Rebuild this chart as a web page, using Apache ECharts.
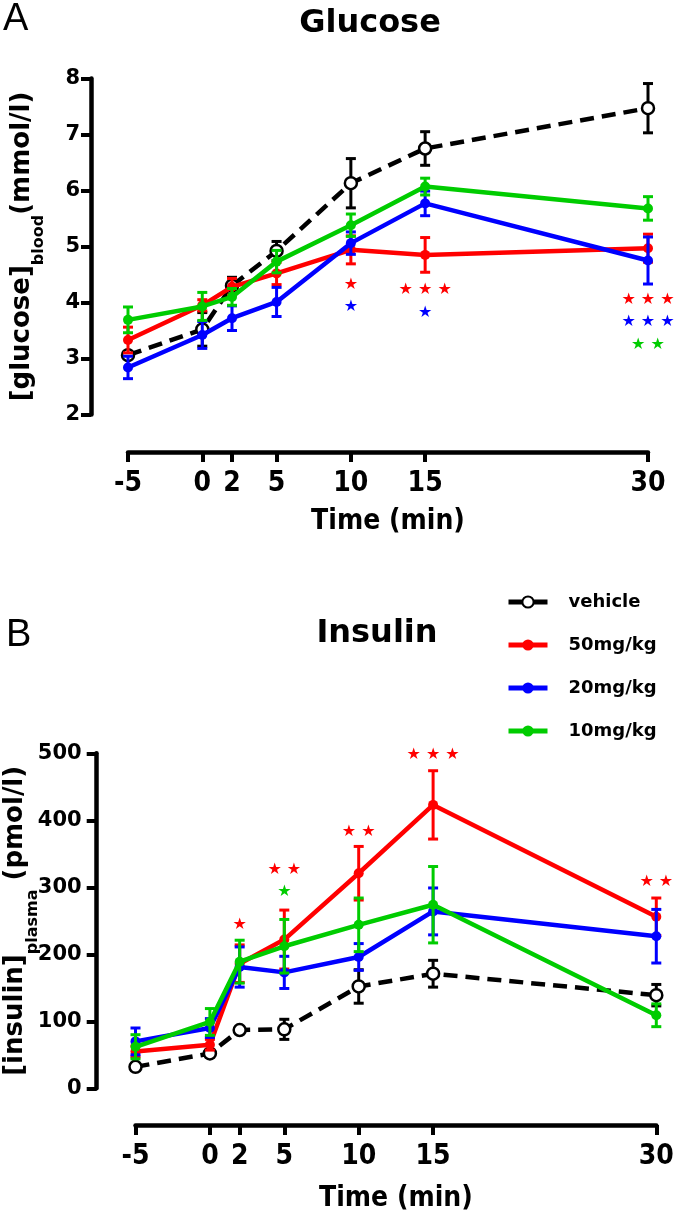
<!DOCTYPE html>
<html><head><meta charset="utf-8">
<script src="https://cdn.jsdelivr.net/npm/echarts@6/dist/echarts.min.js"></script>
<style>html,body{margin:0;padding:0;background:#fff}#c{width:678px;height:1214px}</style>
</head><body><div id="c"></div>
<script>
// ---- data ----
const times = [-5, 0, 2, 5, 10, 15, 30];
const timeTickLabels = [-5, 0, 2, 5, 10, 15, 30];
const glucoseTicks = [2, 3, 4, 5, 6, 7, 8];
const insulinTicks = [0, 100, 200, 300, 400, 500];
const groupNames = ['vehicle', '50mg/kg', '20mg/kg', '10mg/kg'];

const glucoseVehicle = [3.06, 3.52, 4.30, 4.92, 6.13, 6.75, 7.47];
const glucoseVehicleSem = [0.05, 0.30, 0.15, 0.17, 0.44, 0.30, 0.44];
const glucose50 = [3.33, 3.95, 4.28, 4.52, 4.94, 4.85, 4.97];
const glucose50Sem = [0.23, 0.10, 0.15, 0.20, 0.25, 0.31, 0.25];
const glucose20 = [2.84, 3.42, 3.72, 4.01, 5.06, 5.77, 4.75];
const glucose20Sem = [0.20, 0.24, 0.22, 0.26, 0.20, 0.22, 0.42];
const glucose10 = [3.69, 3.93, 4.10, 4.73, 5.38, 6.07, 5.68];
const glucose10Sem = [0.23, 0.25, 0.15, 0.20, 0.20, 0.15, 0.21];

const insulinVehicle = [32, 52, 87, 88, 152, 171, 139];
const insulinVehicleSem = [5, 5, 3, 15, 25, 20, 16];
const insulin50 = [55, 65, 186, 222, 321, 423, 256];
const insulin50Sem = [8, 8, 28, 44, 40, 51, 28];
const insulin20 = [70, 90, 181, 173, 196, 264, 227];
const insulin20Sem = [20, 14, 30, 24, 20, 35, 40];
const insulin10 = [62, 99, 189, 212, 244, 274, 109];
const insulin10Sem = [18, 20, 32, 40, 40, 57, 17];

// significance stars: [time, level, count]
const glucoseStars50 = [[10, 4.31, 1], [15, 4.22, 3], [30, 4.04, 3]];
const glucoseStars20 = [[10, 3.93, 1], [15, 3.82, 1], [30, 3.66, 3]];
const glucoseStars10 = [[30, 3.24, 2]];
const insulinStars50 = [[2, 244, 1], [5, 326, 2], [10, 383, 2], [15, 497, 3], [30, 308, 2]];
const insulinStars10 = [[5, 293, 1]];

// ---- styles ----
const colors = {'vehicle': '#000000', '50mg/kg': '#ff0000', '20mg/kg': '#0000ff', '10mg/kg': '#00cc00'};
const BOLD = '"DejaVu Sans", sans-serif';
const NARROW = '"Liberation Sans Narrow", "DejaVu Sans Condensed", sans-serif';

function errRender(color) {
  return function (params, api) {
    const x = api.value(0), y = api.value(1), e = api.value(2);
    const top = api.coord([x, y + e]);
    const bot = api.coord([x, y - e]);
    const cap = 5;
    const style = {stroke: color, lineWidth: 3, fill: null};
    return {type: 'group', children: [
      {type: 'line', shape: {x1: top[0], y1: top[1], x2: bot[0], y2: bot[1]}, style: style},
      {type: 'line', shape: {x1: top[0] - cap, y1: top[1], x2: top[0] + cap, y2: top[1]}, style: style},
      {type: 'line', shape: {x1: bot[0] - cap, y1: bot[1], x2: bot[0] + cap, y2: bot[1]}, style: style}
    ]};
  };
}
function starRender(color) {
  return function (params, api) {
    const p = api.coord([api.value(0), api.value(1)]);
    const n = api.value(2);
    return {type: 'text', x: p[0], y: p[1], style: {
      text: Array(n).fill('\u2605').join(' '), fill: color,
      font: '16px "DejaVu Sans"', align: 'center', verticalAlign: 'middle'}};
  };
}

const series = [];
function addGroup(k, name, vals, sems, z) {
  const color = colors[name];
  const veh = name === 'vehicle';
  series.push({
    type: 'custom', name: name + ' sem', xAxisIndex: k, yAxisIndex: k, z: z,
    renderItem: errRender(color), encode: {x: 0, y: 1},
    data: times.map((t, i) => [t, vals[i], sems[i]]), silent: true
  });
  series.push({
    type: 'line', name: name, xAxisIndex: k, yAxisIndex: k, z: z + 1,
    data: times.map((t, i) => [t, vals[i]]),
    symbol: 'circle', symbolSize: veh ? 12 : 10, showSymbol: true,
    lineStyle: {color: color, width: 4.5, type: veh ? [14, 8] : 'solid'},
    itemStyle: veh ? {color: '#ffffff', borderColor: '#000000', borderWidth: 2.5} : {color: color}
  });
}
function addStars(k, name, stars) {
  series.push({
    type: 'custom', name: name + ' stars', xAxisIndex: k, yAxisIndex: k, z: 20,
    renderItem: starRender(colors[name]), encode: {x: 0, y: 1}, data: stars, silent: true
  });
}

addGroup(0, 'vehicle', glucoseVehicle, glucoseVehicleSem, 2);
addGroup(0, '50mg/kg', glucose50, glucose50Sem, 4);
addGroup(0, '20mg/kg', glucose20, glucose20Sem, 6);
addGroup(0, '10mg/kg', glucose10, glucose10Sem, 8);
addStars(0, '50mg/kg', glucoseStars50);
addStars(0, '20mg/kg', glucoseStars20);
addStars(0, '10mg/kg', glucoseStars10);

addGroup(1, 'vehicle', insulinVehicle, insulinVehicleSem, 2);
addGroup(1, '50mg/kg', insulin50, insulin50Sem, 4);
addGroup(1, '20mg/kg', insulin20, insulin20Sem, 6);
addGroup(1, '10mg/kg', insulin10, insulin10Sem, 8);
addStars(1, '50mg/kg', insulinStars50);
addStars(1, '10mg/kg', insulinStars10);

function xAxisCfg(k, offset, nameGap) {
  return {
    type: 'value', gridIndex: k, min: times[0], max: times[times.length - 1], offset: offset,
    axisLine: {show: true, onZero: false, lineStyle: {color: '#000', width: 4.5}},
    axisTick: {show: true, customValues: timeTickLabels, length: 10, lineStyle: {color: '#000', width: 4}},
    axisLabel: {customValues: timeTickLabels, margin: 18, color: '#000', fontFamily: NARROW, fontWeight: 'bold', fontSize: 28},
    splitLine: {show: false},
    name: 'Time (min)', nameLocation: 'middle', nameGap: nameGap, nameMoveOverlap: false,
    nameTextStyle: {color: '#000', fontFamily: NARROW, fontWeight: 'bold', fontSize: 28}
  };
}
function yAxisCfg(k, ticks, offset, name, nameGap, margin) {
  return {
    type: 'value', gridIndex: k, min: ticks[0], max: ticks[ticks.length - 1], interval: ticks[1] - ticks[0], offset: offset,
    axisLine: {show: true, onZero: false, lineStyle: {color: '#000', width: 4.5}},
    axisTick: {show: true, length: 10, lineStyle: {color: '#000', width: 4}},
    axisLabel: {margin: margin, color: '#000', fontFamily: BOLD, fontWeight: 'bold', fontSize: 21},
    splitLine: {show: false},
    name: name, nameLocation: 'middle', nameRotate: 90, nameGap: nameGap, nameMoveOverlap: false,
    nameTextStyle: {rich: {
      a: {fontFamily: BOLD, fontWeight: 'bold', fontSize: 26, color: '#000', lineHeight: 50},
      s: {fontFamily: BOLD, fontWeight: 'bold', fontSize: 16, color: '#000', lineHeight: 16, verticalAlign: 'bottom'}
    }}
  };
}

const option = {
  animation: false,
  backgroundColor: '#ffffff',
  grid: [
    {left: 128, right: 30, top: 78.5, height: 336, outerBoundsMode: 'none'},
    {left: 135.5, right: 21.7, top: 753.3, height: 335, outerBoundsMode: 'none'}
  ],
  xAxis: [xAxisCfg(0, 37.5, 56), xAxisCfg(1, 36.7, 60)],
  yAxis: [
    yAxisCfg(0, glucoseTicks, 37, '{a|[glucose]}{s|blood}{a|(mmol/l)}', 44, 11),
    yAxisCfg(1, insulinTicks, 38.8, '{a|[insulin]}{s|plasma}{a| (pmol/l)}', 56, 15)
  ],
  legend: {
    orient: 'vertical', left: 506, top: 592, padding: 0, itemWidth: 39, itemHeight: 14, itemGap: 23,
    textStyle: {fontFamily: BOLD, fontWeight: 'bold', fontSize: 18, color: '#000', lineHeight: 20, padding: [0, 0, 0, 16]},
    data: groupNames.map(n => ({name: n, lineStyle: {type: 'solid', width: 5}}))
  },
  graphic: [
    {type: 'text', x: 370, y: 24, style: {text: 'Glucose', font: 'bold 32px "DejaVu Sans"', fill: '#000', align: 'center', verticalAlign: 'middle'}},
    {type: 'text', x: 377, y: 634, style: {text: 'Insulin', font: 'bold 32px "DejaVu Sans"', fill: '#000', align: 'center', verticalAlign: 'middle'}},
    {type: 'text', x: 3, y: 20, style: {text: 'A', font: '38px "Liberation Sans"', fill: '#000', align: 'left', verticalAlign: 'middle'}},
    {type: 'text', x: 6, y: 636, style: {text: 'B', font: '38px "Liberation Sans"', fill: '#000', align: 'left', verticalAlign: 'middle'}}
  ],
  series: series
};

const chart = echarts.init(document.getElementById('c'), null, {renderer: 'canvas'});
chart.setOption(option);
</script>
</body></html>
